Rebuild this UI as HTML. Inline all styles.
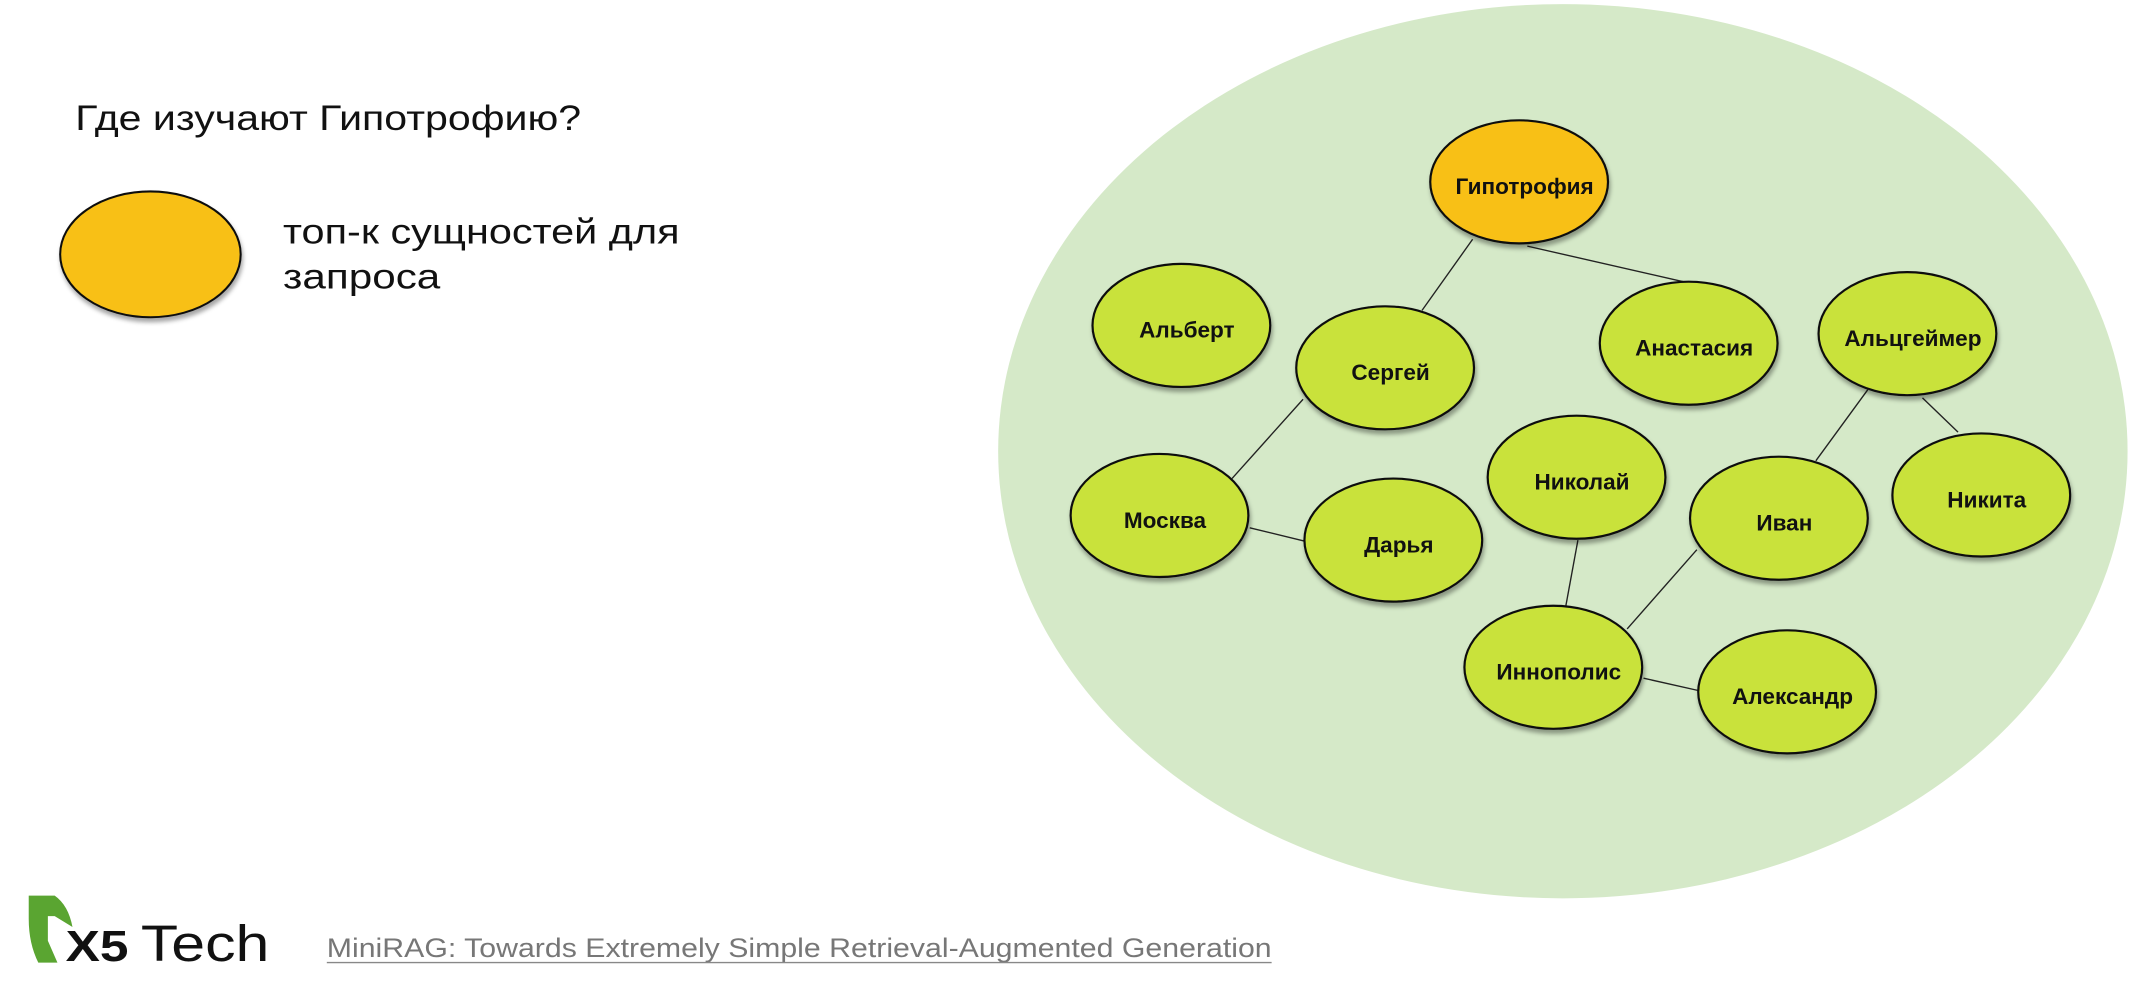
<!DOCTYPE html>
<html><head><meta charset="utf-8"><style>
html,body{margin:0;padding:0;background:#fff;}
svg{display:block;}
text{font-family:"Liberation Sans","DejaVu Sans",sans-serif;}
</style></head><body>
<svg width="2144" height="992" viewBox="0 0 1568 725.5" xmlns="http://www.w3.org/2000/svg">
<defs>
<filter id="sh" x="-20%" y="-20%" width="140%" height="150%"><feDropShadow dx="1" dy="3" stdDeviation="1.5" flood-color="#000" flood-opacity="0.35"/></filter>
</defs>
<rect width="1568" height="725.5" fill="#fff"/>
<text x="55" y="95" font-size="26" fill="#111" textLength="370" lengthAdjust="spacingAndGlyphs">Где изучают Гипотрофию?</text>
<ellipse cx="110" cy="186" rx="66" ry="46" fill="#f8c015" stroke="#111" stroke-width="1.5" filter="url(#sh)"/>
<text x="207" y="178" font-size="26" fill="#111" textLength="290" lengthAdjust="spacingAndGlyphs">топ-к сущностей для</text>
<text x="207" y="211" font-size="26" fill="#111" textLength="115" lengthAdjust="spacingAndGlyphs">запроса</text>

<ellipse cx="1143" cy="330" rx="413" ry="327" fill="#d5e9c8"/>
<g stroke="#222" stroke-width="1">
<line x1="1077" y1="175" x2="1040" y2="227"/>
<line x1="1117" y1="180" x2="1231" y2="206"/>
<line x1="953" y1="292" x2="901" y2="350"/>
<line x1="914" y1="386" x2="955" y2="396"/>
<line x1="1366" y1="285" x2="1328" y2="337"/>
<line x1="1406" y1="291" x2="1432" y2="316"/>
<line x1="1154" y1="395" x2="1145" y2="444"/>
<line x1="1241" y1="402" x2="1190" y2="460"/>
<line x1="1202" y1="496" x2="1242" y2="505"/>
</g>
<g stroke="#111" stroke-width="1.6" filter="url(#sh)">
<ellipse cx="1111" cy="133" rx="65" ry="45" fill="#f8c015"/>
<ellipse cx="864" cy="238" rx="65" ry="45" fill="#c9e23a"/>
<ellipse cx="1013" cy="269" rx="65" ry="45" fill="#c9e23a"/>
<ellipse cx="1235" cy="251" rx="65" ry="45" fill="#c9e23a"/>
<ellipse cx="1395" cy="244" rx="65" ry="45" fill="#c9e23a"/>
<ellipse cx="848" cy="377" rx="65" ry="45" fill="#c9e23a"/>
<ellipse cx="1019" cy="395" rx="65" ry="45" fill="#c9e23a"/>
<ellipse cx="1153" cy="349" rx="65" ry="45" fill="#c9e23a"/>
<ellipse cx="1301" cy="379" rx="65" ry="45" fill="#c9e23a"/>
<ellipse cx="1449" cy="362" rx="65" ry="45" fill="#c9e23a"/>
<ellipse cx="1136" cy="488" rx="65" ry="45" fill="#c9e23a"/>
<ellipse cx="1307" cy="506" rx="65" ry="45" fill="#c9e23a"/>
</g>
<g font-size="16.5" font-weight="bold" fill="#111" text-anchor="middle">
<text x="1115" y="142">Гипотрофия</text>
<text x="868" y="247">Альберт</text>
<text x="1017" y="278">Сергей</text>
<text x="1239" y="260">Анастасия</text>
<text x="1399" y="253">Альцгеймер</text>
<text x="852" y="386">Москва</text>
<text x="1023" y="404">Дарья</text>
<text x="1157" y="358">Николай</text>
<text x="1305" y="388">Иван</text>
<text x="1453" y="371">Никита</text>
<text x="1140" y="497">Иннополис</text>
<text x="1311" y="515">Александр</text>
</g>

<path d="M21 655 L40 655 Q50 662 53 678 L40 670 L35 670 L35 688 L42 704 L28 704 Q21 690 21 672 Z" fill="#5aa531"/>
<text x="48" y="703" font-size="32" font-weight="bold" fill="#111" textLength="46" lengthAdjust="spacingAndGlyphs">X5</text>
<text x="103" y="703" font-size="37" fill="#111" textLength="94" lengthAdjust="spacingAndGlyphs">Tech</text>
<text x="239" y="700" font-size="19.5" fill="#777" textLength="691" lengthAdjust="spacingAndGlyphs">MiniRAG: Towards Extremely Simple Retrieval-Augmented Generation</text>
<line x1="239" y1="704" x2="930" y2="704" stroke="#888" stroke-width="1"/>
</svg>
</body></html>
